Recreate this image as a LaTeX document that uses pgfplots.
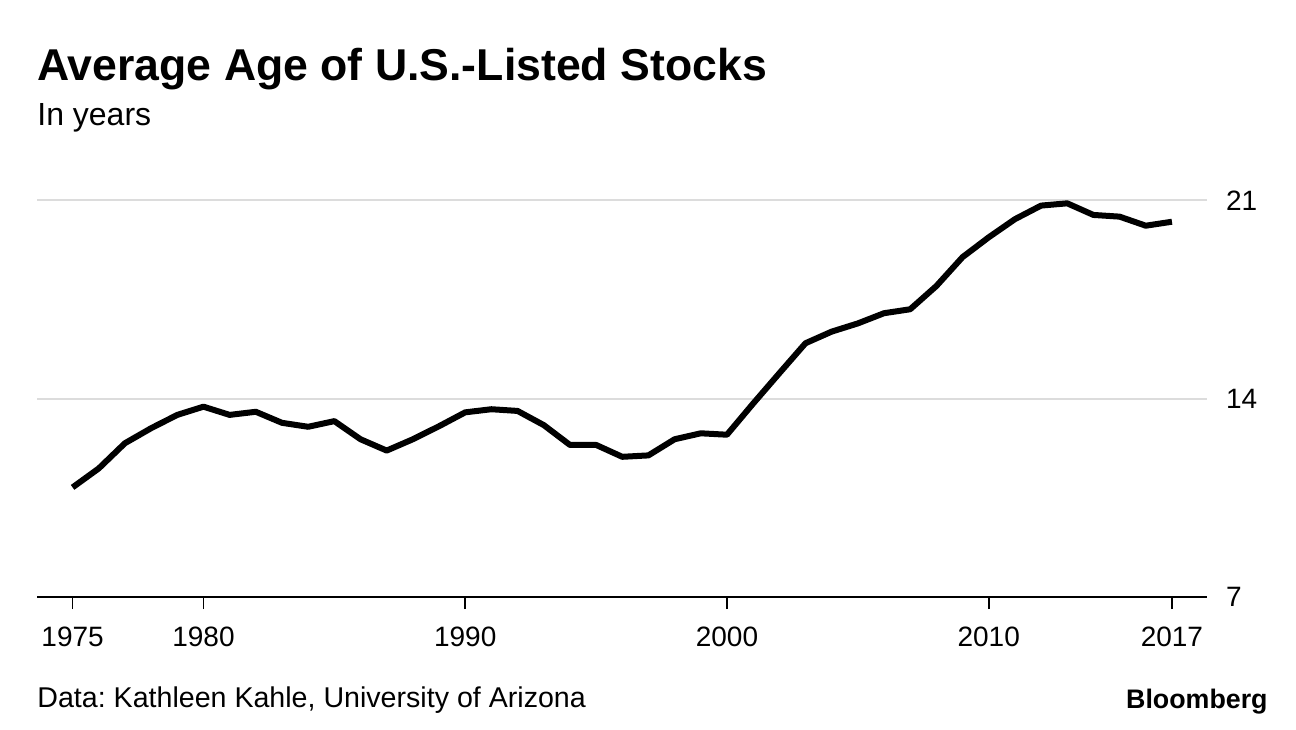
\documentclass[border=0pt]{standalone}
\usepackage{pgfplots}
\pgfplotsset{compat=1.18}
\usepackage{fontspec}
\setmainfont{Liberation Sans}
\definecolor{gridgray}{HTML}{DCDCDC}

\begin{document}
\frenchspacing
\begin{tikzpicture}
  % 1 px of the reference = 0.5bp
  \useasboundingbox (0,0) rectangle (648bp,365bp);
  \begin{axis}[
      at={(18.5bp,66.5bp)}, anchor=south west,
      scale only axis, width=585bp, height=198.25bp,
      xmin=1973.64, xmax=2018.34,
      ymin=7, ymax=21,
      axis x line=bottom, axis y line=right,
      x axis line style={-, line width=1bp, black},
      y axis line style={draw=none},
      xtick={1975,1980,1990,2000,2010,2017},
      xticklabels={1975,1980,1990,2000,2010,2017},
      ytick={7,14,21},
      yticklabels={7,14,21},
      tick align=outside,
      major tick length=6bp,
      xtick style={black, line width=0.8bp},
      ytick style={draw=none},
      ymajorgrids,
      grid style={gridgray, line width=1bp},
      /pgf/number format/assume math mode=true,
      xticklabel style={font=\fontsize{14bp}{16bp}\selectfont, anchor=base, yshift=-18.5bp},
      yticklabel style={font=\fontsize{14bp}{16bp}\selectfont, anchor=west, xshift=0bp},
      clip=false,
    ]
    \addplot[black, line width=3bp, line join=round] coordinates {
      (1975,10.87) (1976,11.54) (1977,12.43) (1978,12.96) (1979,13.43)
      (1980,13.72) (1981,13.43) (1982,13.54) (1983,13.15) (1984,13.01)
      (1985,13.21) (1986,12.57) (1987,12.17) (1988,12.57) (1989,13.03)
      (1990,13.52) (1991,13.63) (1992,13.57) (1993,13.07) (1994,12.37)
      (1995,12.37) (1996,11.95) (1997,12.00) (1998,12.57) (1999,12.78)
      (2000,12.73) (2001,13.83) (2002,14.90) (2003,15.96) (2004,16.37)
      (2005,16.66) (2006,17.02) (2007,17.16) (2008,17.98) (2009,19.00)
      (2010,19.70) (2011,20.34) (2012,20.82) (2013,20.90) (2014,20.49)
      (2015,20.43) (2016,20.11) (2017,20.25)
    };
  \end{axis}
  \node[anchor=base west, inner sep=0pt, font=\bfseries\fontsize{22.3bp}{26bp}\selectfont]
    at (18.5bp,324.5bp) {Average Age of U.S.-Listed Stocks};
  \node[anchor=base west, inner sep=0pt, font=\fontsize{16bp}{19bp}\selectfont]
    at (18.5bp,302bp) {In years};
  \node[anchor=base west, inner sep=0pt, font=\fontsize{14.3bp}{17bp}\selectfont]
    at (18.5bp,11.5bp) {Data: Kathleen Kahle, University of Arizona};
  \node[anchor=base east, inner sep=0pt, font=\bfseries\fontsize{13.4bp}{16bp}\selectfont]
    at (634bp,11bp) {Bloomberg};
\end{tikzpicture}
\end{document}
